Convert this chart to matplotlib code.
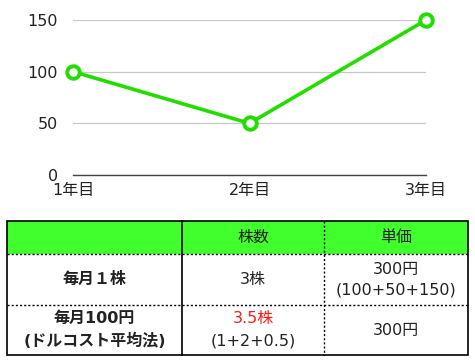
import matplotlib
matplotlib.use("Agg")
from matplotlib import pyplot as plt
from matplotlib.patches import Rectangle

plt.rcParams['font.family'] = ['DejaVu Sans', 'Noto Sans CJK JP']

# chart data
years = ["1年目", "2年目", "3年目"]
prices = [100, 50, 150]
y_ticks = [0, 50, 100, 150]

# table data
col_headers = ["", "株数", "単価"]
row_labels = ["毎月１株", "毎月100円\n(ドルコスト平均法)"]
shares_main = ["3株", "3.5株"]
shares_note = ["", "(1+2+0.5)"]
unit_price = ["300円\n(100+50+150)", "300円"]

green = "#22dd00"
header_fill = "#40ff2c"
fs = 11.5

fig = plt.figure(figsize=(4.75, 3.62), dpi=100)

# --- line chart ---
W, H = 475.0, 362.0
ax = fig.add_axes([73 / W, 1 - 175 / H, (426 - 73) / W, (175 - 20) / H])
x = list(range(len(years)))
ax.plot(x, prices, color=green, lw=2.6, marker="o", ms=9, mfc="white",
        mec=green, mew=2.8, clip_on=False, zorder=3)
ax.set_xlim(0, len(years) - 1)
ax.set_ylim(0, 150)
ax.set_yticks(y_ticks)
ax.set_xticks(x)
ax.set_xticklabels(years)
ax.yaxis.grid(True, color="#c8c8c8", lw=0.9)
ax.set_axisbelow(True)
for s in ["top", "right", "left"]:
    ax.spines[s].set_visible(False)
ax.spines["bottom"].set_color("#444444")
ax.spines["bottom"].set_linewidth(1.0)
ax.tick_params(axis="both", length=0, labelsize=fs, colors="#222222")
ax.tick_params(axis="y", pad=11)
ax.tick_params(axis="x", pad=6)
ax.set_facecolor("none")

# --- table (drawn in pixel coordinates) ---
tb = fig.add_axes([0, 0, 1, 1])
tb.set_xlim(0, W)
tb.set_ylim(H, 0)
tb.axis("off")

xs = [7, 182, 324, 468]
ys = [221, 254, 305, 355]

tb.add_patch(Rectangle((xs[0], ys[0]), xs[3] - xs[0], ys[1] - ys[0],
                       facecolor=header_fill, edgecolor="none"))
# outer border
tb.add_patch(Rectangle((xs[0], ys[0]), xs[3] - xs[0], ys[3] - ys[0],
                       facecolor="none", edgecolor="black", lw=1.2))
# vertical dividers
tb.plot([xs[1], xs[1]], [ys[0], ys[3]], color="black", lw=1.2)
tb.plot([xs[2], xs[2]], [ys[0], ys[3]], color="black", lw=1.0, ls=(0, (1.5, 1.5)))
# horizontal dividers
for yy in ys[1:3]:
    tb.plot([xs[0], xs[3]], [yy, yy], color="black", lw=1.0, ls=(0, (1.5, 1.5)))

cx = [(xs[i] + xs[i + 1]) / 2 for i in range(3)]
cy = [(ys[i] + ys[i + 1]) / 2 for i in range(3)]

for i, h in enumerate(col_headers):
    tb.text(cx[i], cy[0], h, ha="center", va="center", fontsize=fs, color="#222222")

for r in range(2):
    y = cy[r + 1]
    tb.text(cx[0], y, row_labels[r], ha="center", va="center", fontsize=fs,
            fontweight="bold", color="#222222", linespacing=1.45)
    tb.text(cx[2], y, unit_price[r], ha="center", va="center", fontsize=fs,
            color="#222222", linespacing=1.45)
    if shares_note[r]:
        tb.text(cx[1], y - 11, shares_main[r], ha="center", va="center",
                fontsize=fs, color="#ff1a1a")
        tb.text(cx[1], y + 11, shares_note[r], ha="center", va="center",
                fontsize=fs, color="#222222")
    else:
        tb.text(cx[1], y, shares_main[r], ha="center", va="center",
                fontsize=fs, color="#222222")

fig.savefig("out.png", dpi=100)
